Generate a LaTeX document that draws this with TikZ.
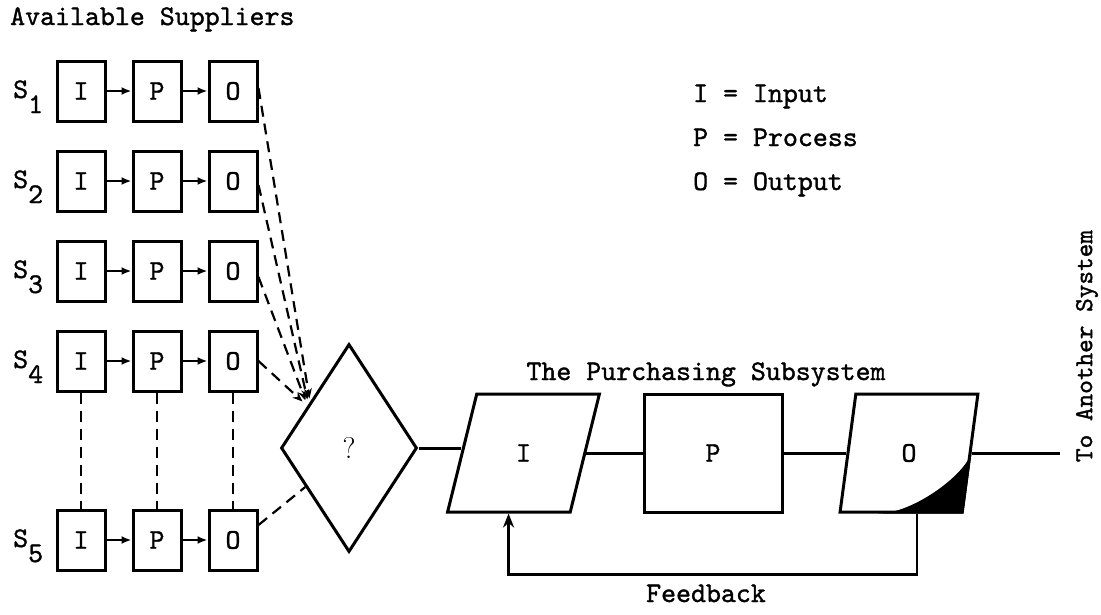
\documentclass[tikz,border=0pt]{standalone}
\usepackage{fontspec}
\newfontfamily\typer{lmmono10-regular.otf}[FakeBold=1.2]
\usetikzlibrary{shapes.geometric,arrows.meta,calc,backgrounds}
\begin{document}
\begin{tikzpicture}[x=1pt,y=-1pt,
  every node/.style={font=\fontsize{28.5}{34}\selectfont\typer, inner sep=0pt},
  sbox/.style={draw, line width=3pt, minimum width=48pt, minimum height=60pt},
  flow/.style={line width=2pt, -{Latex[length=10pt,width=8pt]}},
  choice/.style={line width=2.2pt, dash pattern=on 11pt off 7pt, -{Stealth[length=10pt,width=8pt]}},
  link/.style={line width=2.2pt, dash pattern=on 11pt off 7pt},
  block/.style={draw, line width=3pt},
  wire/.style={line width=3pt},
  ret/.style={line width=2.4pt, -{Stealth[length=14pt,width=11pt]}},
]
\useasboundingbox (0,0) rectangle (1101,614);

% heading and key
\node[anchor=base west] (title) at (10,25) {Available Suppliers};
\node[anchor=base west] (keyI) at (693,102) {I = Input};
\node[anchor=base west] (keyP) at (693,146) {P = Process};
\node[anchor=base west] (keyO) at (693,190) {O = Output};

% the suppliers, each an input-process-output chain
\foreach \n/\yy in {1/91,2/181,3/271,4/361,5/540}{
  \node[sbox] (i\n) at (81,\yy) {I};
  \node[sbox] (p\n) at (157,\yy) {P};
  \node[sbox] (o\n) at (233,\yy) {O};
  \node[anchor=base west] (lab\n) at (13,\yy+7) {S\raisebox{-15pt}{\n}};
  \draw[flow] (i\n) -- (p\n);
  \draw[flow] (p\n) -- (o\n);
}
\foreach \c in {i,p,o}{
  \draw[link] (\c4.south) -- (\c5.north);
}

% selection among suppliers
\node[block, diamond, minimum width=136pt, minimum height=208pt, aspect=0.654,
      font=\fontsize{30}{34}\selectfont\rmfamily] (dia) at (349,448) {?};
\coordinate (hit) at ($(dia.west)!0.46!(dia.north)$);
\draw[choice] ($(o1.east)+(0,-3)$) -- ($(hit)+(-2,-1)$);
\draw[choice] ($(o2.east)+(0,4)$) -- ($(hit)+(-4,0)$);
\draw[choice] ($(o3.east)+(0,6)$) -- ($(hit)+(-6,1)$);
\draw[choice] (o4.east) -- ($(hit)+(-9,2)$);
\draw[link] ($(o5.east)+(0,-15)$) -- ($(dia.west)!0.37!(dia.south)$);

% the purchasing subsystem
\node[anchor=base] (sub) at (706,380) {The Purchasing Subsystem};
\node[block, trapezium, trapezium left angle=75, trapezium right angle=105,
      trapezium stretches=true, minimum width=152pt, minimum height=118pt] (inI) at (523.5,453) {I};
\node[block, minimum width=138pt, minimum height=118pt] (proc) at (713,453) {P};
\node[block, trapezium, trapezium left angle=83, trapezium right angle=97,
      trapezium stretches=true, minimum width=138pt, minimum height=118pt] (out) at (909,453) {O};

% document corner of the output symbol
\coordinate (cs) at ($(out.bottom left corner)!0.32!(out.bottom right corner)$);
\coordinate (ce) at ($(out.bottom right corner)!0.53!(out.top right corner)$);
\begin{scope}[on background layer]
  \fill (cs) .. controls ($(cs)+(36,0)$) and ($(ce)+(-2,22)$) .. (ce)
        -- (out.bottom right corner) -- cycle;
\end{scope}

\draw[wire] (dia.east) -- (dia.east -| inI.left side);
\draw[wire] (inI.right side) -- (proc.west);
\draw[wire] (proc.east) -- (out.left side);
\coordinate (ext) at (1060,453);
\draw[wire] (out.right side) -- (ext);
\node[rotate=90, font=\fontsize{26}{30}\selectfont\typer] (dest) at (1087,346) {To Another System};

% feedback loop
\coordinate (fb) at ($(out.bottom left corner)!0.63!(out.bottom right corner)$);
\draw[ret] (fb) -- ++(0,61) -| (inI.bottom side);
\node[anchor=base] (fbl) at (706,602) {Feedback};
\end{tikzpicture}
\end{document}
